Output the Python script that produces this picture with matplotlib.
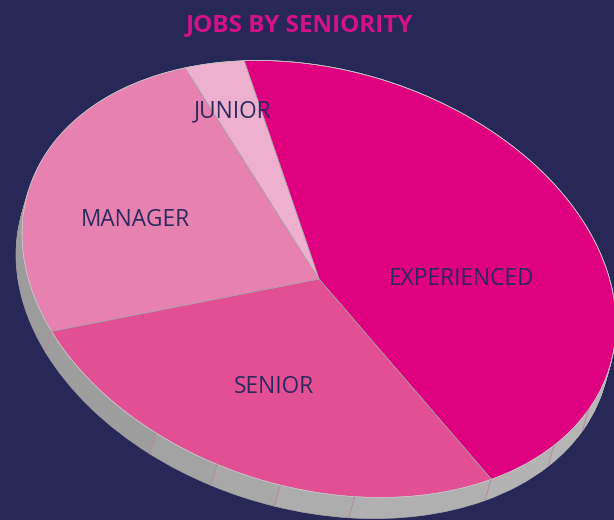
import numpy as np
import matplotlib
matplotlib.use('Agg')
import matplotlib.pyplot as plt
from matplotlib.patches import Circle, Wedge
from matplotlib.transforms import Affine2D

# Slices, clockwise from the top
labels = ['EXPERIENCED', 'SENIOR', 'MANAGER', 'JUNIOR']
values = [44.2, 27.7, 24.7, 3.4]
colors = ['#de007e', '#e34f93', '#e782b0', '#edb0cf']

# Side wall panels (angle on the unit circle)
panel_angles = [-13.1, -26.0, -42.9, -71.4, -85.8, -98.4, -111.6, -142.6]
panel_grays = ['#b8b8b8', '#b5b5b5', '#b3b3b3', '#b0b0b0', '#adadad', '#a8a8a8', '#a3a3a3', '#9e9e9e', '#9c9c9c']

BG = '#282858'
TEXT = '#2b2a5e'
DEPTH = 21
SHIFT_X = -6

fig = plt.figure(figsize=(6.14, 5.2), dpi=100, facecolor=BG)
ax = fig.add_axes([0, 0, 1, 1])


def disc(dx=0, dy=0):
    # tilted ellipse that stands in for the unit circle
    return Affine2D().scale(303.7, 209.1).rotate_deg(-16.75).translate(319 + dx, 241 + dy) + ax.transData


# Side wall: sweep the disc downwards, one panel at a time
edges = [116.0] + panel_angles + [-180.0]
for step in np.linspace(1, 0, DEPTH + 1):
    tr = disc(SHIFT_X * step, -DEPTH * step)
    for i, gray in enumerate(panel_grays):
        ax.add_patch(Wedge((0, 0), 1, edges[i + 1], edges[i],
                           facecolor=gray, edgecolor=gray, linewidth=0.5, transform=tr))

# Panel seams
for ang in panel_angles:
    a = np.radians(ang)
    rim = (np.cos(a), np.sin(a))
    inv = ax.transData.inverted()
    x0, y0 = inv.transform(disc().transform(rim))
    x1, y1 = inv.transform(disc(SHIFT_X, -DEPTH).transform(rim))
    ax.plot([x0, x1], [y0, y1], color='#b58aa0', lw=0.7)

# Top face
ax.pie(values, startangle=116.3, counterclock=False, colors=colors,
       wedgeprops={'transform': disc(), 'edgecolor': '#a8a0a8', 'linewidth': 0.5})
ax.add_patch(Circle((0, 0), 1, fill=False, edgecolor='#dcdcdc', linewidth=0.4, transform=disc()))

ax.set_aspect('auto')
ax.set_xlim(0, 614)
ax.set_ylim(0, 520)
ax.axis('off')

font = 'Open Sans'
ax.text(299, 520 - 25, 'JOBS BY SENIORITY', color='#d5118a', fontsize=17.5, fontweight='bold',
        family=font, ha='center', va='center')
label_pos = [(461, 279), (274, 387), (135, 220), (233, 111)]
for lab, (x, y) in zip(labels, label_pos):
    ax.text(x, 520 - y, lab, color=TEXT, fontsize=16.3, family=font, ha='center', va='center')

fig.savefig('out.png', dpi=100, facecolor=BG)
